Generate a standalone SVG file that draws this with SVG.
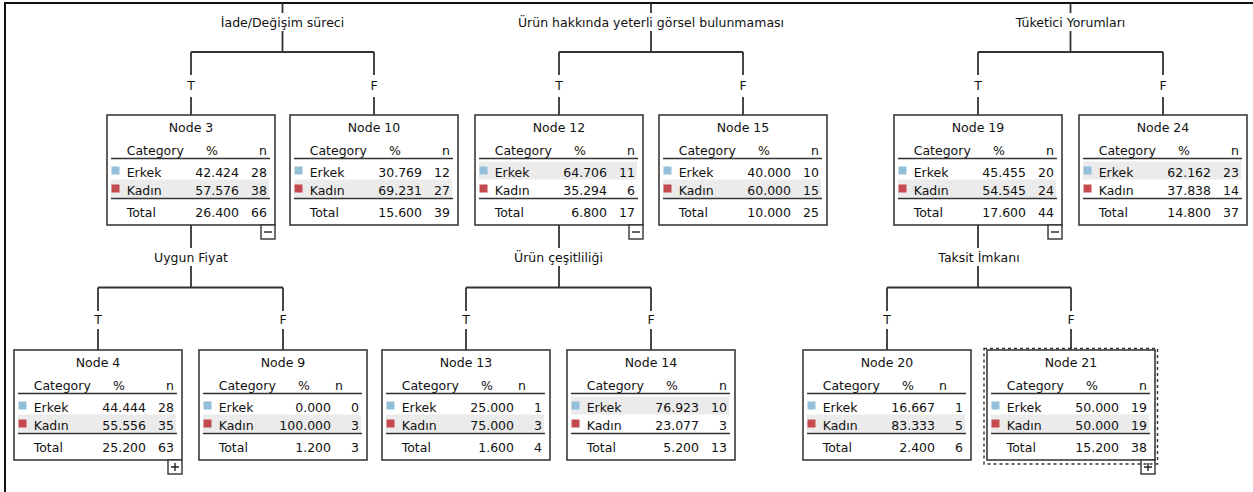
<svg xmlns="http://www.w3.org/2000/svg" width="1253" height="492" viewBox="0 0 1253 492">
<style>
  text { font-family: "DejaVu Sans", "Liberation Sans", sans-serif; font-size: 12.5px; fill: #111; }
  .mid { text-anchor: middle; }
  .end { text-anchor: end; }
  .box { fill: #fff; stroke: #3a3a3a; stroke-width: 1.6; }
  .rule { stroke: #333; stroke-width: 1.6; }
  .band { fill: #ebebeb; }
  .sqE { fill: #93c0d9; }
  .sqK { fill: #c54a50; }
  .con { stroke: #333; stroke-width: 1.8; fill: none; }
  .frame { stroke: #111; stroke-width: 2; fill: none; }
  .tog { fill: #fff; stroke: #333; stroke-width: 1.4; }
  .togs { stroke: #222; stroke-width: 1.4; }
  .focus { fill: none; stroke: #333; stroke-width: 1.4; stroke-dasharray: 3 3; }
</style>

<g id="frame">
  <path class="frame" d="M5,492 V3 H1253"/>
</g>

<g id="connectors">
  <!-- split 1 -->
  <path class="con" d="M282.5,3 V13 M282.5,31 V52 M191,52 H374 M191,52 V75 M191,97 V115 M374,52 V75 M374,97 V115"/>
  <!-- split 2 -->
  <path class="con" d="M651,3 V13 M651,31 V52 M559,52 H743 M559,52 V75 M559,97 V115 M743,52 V75 M743,97 V115"/>
  <!-- split 3 -->
  <path class="con" d="M1070.5,3 V13 M1070.5,31 V52 M978,52 H1163 M978,52 V75 M978,97 V115 M1163,52 V75 M1163,97 V115"/>
  <!-- split under node 3 -->
  <path class="con" d="M191,225 V248 M191,266 V287.5 M98,287.5 H283 M98,287.5 V311 M98,329 V350 M283,287.5 V311 M283,329 V350"/>
  <!-- split under node 12 -->
  <path class="con" d="M559,225 V248 M559,266 V287.5 M466,287.5 H651 M466,287.5 V311 M466,329 V350 M651,287.5 V311 M651,329 V350"/>
  <!-- split under node 19 -->
  <path class="con" d="M978,225 V248 M978,266 V287.5 M887,287.5 H1071 M887,287.5 V311 M887,329 V350 M1071,287.5 V311 M1071,329 V350"/>
</g>

<g id="labels">
  <text class="mid" x="282.5" y="26.5">İade/Değişim süreci</text>
  <text class="mid" x="651" y="26.5">Ürün hakkında yeterli görsel bulunmaması</text>
  <text class="mid" x="1070.5" y="26.5">Tüketici Yorumları</text>
  <text class="mid" x="191" y="89.5">T</text>
  <text class="mid" x="374" y="89.5">F</text>
  <text class="mid" x="559" y="89.5">T</text>
  <text class="mid" x="743" y="89.5">F</text>
  <text class="mid" x="978" y="89.5">T</text>
  <text class="mid" x="1163" y="89.5">F</text>
  <text class="mid" x="191" y="262">Uygun Fiyat</text>
  <text class="mid" x="558.5" y="262">Ürün çeşitliliği</text>
  <text class="mid" x="979" y="262">Taksit İmkanı</text>
  <text class="mid" x="98" y="324">T</text>
  <text class="mid" x="283" y="324">F</text>
  <text class="mid" x="466" y="324">T</text>
  <text class="mid" x="651" y="324">F</text>
  <text class="mid" x="887" y="324">T</text>
  <text class="mid" x="1071" y="324">F</text>
</g>

<g id="node3" transform="translate(107,115)">
  <rect class="box" x="0" y="0" width="168" height="110"/>
  <rect class="band" x="4" y="64.5" width="158" height="18"/>
  <text class="mid" x="84" y="16.7">Node 3</text>
  <text x="19.7" y="40">Category</text><text class="mid" x="105" y="40">%</text><text class="end" x="160" y="40">n</text>
  <line class="rule" x1="4" y1="43.5" x2="163" y2="43.5"/>
  <rect class="sqE" x="4.5" y="51.5" width="8" height="8"/>
  <text x="19.7" y="61.7">Erkek</text><text class="end" x="132" y="61.7">42.424</text><text class="end" x="160" y="61.7">28</text>
  <rect class="sqK" x="4.5" y="69.5" width="8" height="8"/>
  <text x="19.7" y="80">Kadın</text><text class="end" x="132" y="80">57.576</text><text class="end" x="160" y="80">38</text>
  <line class="rule" x1="4" y1="83.5" x2="163" y2="83.5"/>
  <text x="19.7" y="102.3">Total</text><text class="end" x="132" y="102.3">26.400</text><text class="end" x="160" y="102.3">66</text>
  <rect class="tog" x="154" y="110" width="14" height="14"/>
  <line class="togs" x1="157" y1="117" x2="165" y2="117"/>
</g>

<g id="node10" transform="translate(290,115)">
  <rect class="box" x="0" y="0" width="168" height="110"/>
  <rect class="band" x="4" y="64.5" width="158" height="18"/>
  <text class="mid" x="84" y="16.7">Node 10</text>
  <text x="19.7" y="40">Category</text><text class="mid" x="105" y="40">%</text><text class="end" x="160" y="40">n</text>
  <line class="rule" x1="4" y1="43.5" x2="163" y2="43.5"/>
  <rect class="sqE" x="4.5" y="51.5" width="8" height="8"/>
  <text x="19.7" y="61.7">Erkek</text><text class="end" x="132" y="61.7">30.769</text><text class="end" x="160" y="61.7">12</text>
  <rect class="sqK" x="4.5" y="69.5" width="8" height="8"/>
  <text x="19.7" y="80">Kadın</text><text class="end" x="132" y="80">69.231</text><text class="end" x="160" y="80">27</text>
  <line class="rule" x1="4" y1="83.5" x2="163" y2="83.5"/>
  <text x="19.7" y="102.3">Total</text><text class="end" x="132" y="102.3">15.600</text><text class="end" x="160" y="102.3">39</text>
</g>

<g id="node12" transform="translate(475,115)">
  <rect class="box" x="0" y="0" width="168" height="110"/>
  <rect class="band" x="4" y="46.5" width="158" height="18"/>
  <text class="mid" x="84" y="16.7">Node 12</text>
  <text x="19.7" y="40">Category</text><text class="mid" x="105" y="40">%</text><text class="end" x="160" y="40">n</text>
  <line class="rule" x1="4" y1="43.5" x2="163" y2="43.5"/>
  <rect class="sqE" x="4.5" y="51.5" width="8" height="8"/>
  <text x="19.7" y="61.7">Erkek</text><text class="end" x="132" y="61.7">64.706</text><text class="end" x="160" y="61.7">11</text>
  <rect class="sqK" x="4.5" y="69.5" width="8" height="8"/>
  <text x="19.7" y="80">Kadın</text><text class="end" x="132" y="80">35.294</text><text class="end" x="160" y="80">6</text>
  <line class="rule" x1="4" y1="83.5" x2="163" y2="83.5"/>
  <text x="19.7" y="102.3">Total</text><text class="end" x="132" y="102.3">6.800</text><text class="end" x="160" y="102.3">17</text>
  <rect class="tog" x="154" y="110" width="14" height="14"/>
  <line class="togs" x1="157" y1="117" x2="165" y2="117"/>
</g>

<g id="node15" transform="translate(659,115)">
  <rect class="box" x="0" y="0" width="168" height="110"/>
  <rect class="band" x="4" y="64.5" width="158" height="18"/>
  <text class="mid" x="84" y="16.7">Node 15</text>
  <text x="19.7" y="40">Category</text><text class="mid" x="105" y="40">%</text><text class="end" x="160" y="40">n</text>
  <line class="rule" x1="4" y1="43.5" x2="163" y2="43.5"/>
  <rect class="sqE" x="4.5" y="51.5" width="8" height="8"/>
  <text x="19.7" y="61.7">Erkek</text><text class="end" x="132" y="61.7">40.000</text><text class="end" x="160" y="61.7">10</text>
  <rect class="sqK" x="4.5" y="69.5" width="8" height="8"/>
  <text x="19.7" y="80">Kadın</text><text class="end" x="132" y="80">60.000</text><text class="end" x="160" y="80">15</text>
  <line class="rule" x1="4" y1="83.5" x2="163" y2="83.5"/>
  <text x="19.7" y="102.3">Total</text><text class="end" x="132" y="102.3">10.000</text><text class="end" x="160" y="102.3">25</text>
</g>

<g id="node19" transform="translate(894,115)">
  <rect class="box" x="0" y="0" width="168" height="110"/>
  <rect class="band" x="4" y="64.5" width="158" height="18"/>
  <text class="mid" x="84" y="16.7">Node 19</text>
  <text x="19.7" y="40">Category</text><text class="mid" x="105" y="40">%</text><text class="end" x="160" y="40">n</text>
  <line class="rule" x1="4" y1="43.5" x2="163" y2="43.5"/>
  <rect class="sqE" x="4.5" y="51.5" width="8" height="8"/>
  <text x="19.7" y="61.7">Erkek</text><text class="end" x="132" y="61.7">45.455</text><text class="end" x="160" y="61.7">20</text>
  <rect class="sqK" x="4.5" y="69.5" width="8" height="8"/>
  <text x="19.7" y="80">Kadın</text><text class="end" x="132" y="80">54.545</text><text class="end" x="160" y="80">24</text>
  <line class="rule" x1="4" y1="83.5" x2="163" y2="83.5"/>
  <text x="19.7" y="102.3">Total</text><text class="end" x="132" y="102.3">17.600</text><text class="end" x="160" y="102.3">44</text>
  <rect class="tog" x="154" y="110" width="14" height="14"/>
  <line class="togs" x1="157" y1="117" x2="165" y2="117"/>
</g>

<g id="node24" transform="translate(1079,115)">
  <rect class="box" x="0" y="0" width="168" height="110"/>
  <rect class="band" x="4" y="46.5" width="158" height="18"/>
  <text class="mid" x="84" y="16.7">Node 24</text>
  <text x="19.7" y="40">Category</text><text class="mid" x="105" y="40">%</text><text class="end" x="160" y="40">n</text>
  <line class="rule" x1="4" y1="43.5" x2="163" y2="43.5"/>
  <rect class="sqE" x="4.5" y="51.5" width="8" height="8"/>
  <text x="19.7" y="61.7">Erkek</text><text class="end" x="132" y="61.7">62.162</text><text class="end" x="160" y="61.7">23</text>
  <rect class="sqK" x="4.5" y="69.5" width="8" height="8"/>
  <text x="19.7" y="80">Kadın</text><text class="end" x="132" y="80">37.838</text><text class="end" x="160" y="80">14</text>
  <line class="rule" x1="4" y1="83.5" x2="163" y2="83.5"/>
  <text x="19.7" y="102.3">Total</text><text class="end" x="132" y="102.3">14.800</text><text class="end" x="160" y="102.3">37</text>
</g>

<g id="node4" transform="translate(14,350)">
  <rect class="box" x="0" y="0" width="168" height="110"/>
  <rect class="band" x="4" y="64.5" width="158" height="18"/>
  <text class="mid" x="84" y="16.7">Node 4</text>
  <text x="19.7" y="40">Category</text><text class="mid" x="105" y="40">%</text><text class="end" x="160" y="40">n</text>
  <line class="rule" x1="4" y1="43.5" x2="163" y2="43.5"/>
  <rect class="sqE" x="4.5" y="51.5" width="8" height="8"/>
  <text x="19.7" y="61.7">Erkek</text><text class="end" x="132" y="61.7">44.444</text><text class="end" x="160" y="61.7">28</text>
  <rect class="sqK" x="4.5" y="69.5" width="8" height="8"/>
  <text x="19.7" y="80">Kadın</text><text class="end" x="132" y="80">55.556</text><text class="end" x="160" y="80">35</text>
  <line class="rule" x1="4" y1="83.5" x2="163" y2="83.5"/>
  <text x="19.7" y="102.3">Total</text><text class="end" x="132" y="102.3">25.200</text><text class="end" x="160" y="102.3">63</text>
  <rect class="tog" x="154" y="110" width="14" height="14"/>
  <path class="togs" d="M157,117 H165 M161,113 V121"/>
</g>

<g id="node9" transform="translate(199,350)">
  <rect class="box" x="0" y="0" width="168" height="110"/>
  <rect class="band" x="4" y="64.5" width="158" height="18"/>
  <text class="mid" x="84" y="16.7">Node 9</text>
  <text x="19.7" y="40">Category</text><text class="mid" x="105" y="40">%</text><text class="mid" x="140" y="40">n</text>
  <line class="rule" x1="4" y1="43.5" x2="163" y2="43.5"/>
  <rect class="sqE" x="4.5" y="51.5" width="8" height="8"/>
  <text x="19.7" y="61.7">Erkek</text><text class="end" x="132" y="61.7">0.000</text><text class="end" x="160" y="61.7">0</text>
  <rect class="sqK" x="4.5" y="69.5" width="8" height="8"/>
  <text x="19.7" y="80">Kadın</text><text class="end" x="132" y="80">100.000</text><text class="end" x="160" y="80">3</text>
  <line class="rule" x1="4" y1="83.5" x2="163" y2="83.5"/>
  <text x="19.7" y="102.3">Total</text><text class="end" x="132" y="102.3">1.200</text><text class="end" x="160" y="102.3">3</text>
</g>

<g id="node13" transform="translate(382,350)">
  <rect class="box" x="0" y="0" width="168" height="110"/>
  <rect class="band" x="4" y="64.5" width="158" height="18"/>
  <text class="mid" x="84" y="16.7">Node 13</text>
  <text x="19.7" y="40">Category</text><text class="mid" x="105" y="40">%</text><text class="mid" x="140" y="40">n</text>
  <line class="rule" x1="4" y1="43.5" x2="163" y2="43.5"/>
  <rect class="sqE" x="4.5" y="51.5" width="8" height="8"/>
  <text x="19.7" y="61.7">Erkek</text><text class="end" x="132" y="61.7">25.000</text><text class="end" x="160" y="61.7">1</text>
  <rect class="sqK" x="4.5" y="69.5" width="8" height="8"/>
  <text x="19.7" y="80">Kadın</text><text class="end" x="132" y="80">75.000</text><text class="end" x="160" y="80">3</text>
  <line class="rule" x1="4" y1="83.5" x2="163" y2="83.5"/>
  <text x="19.7" y="102.3">Total</text><text class="end" x="132" y="102.3">1.600</text><text class="end" x="160" y="102.3">4</text>
</g>

<g id="node14" transform="translate(567,350)">
  <rect class="box" x="0" y="0" width="168" height="110"/>
  <rect class="band" x="4" y="46.5" width="158" height="18"/>
  <text class="mid" x="84" y="16.7">Node 14</text>
  <text x="19.7" y="40">Category</text><text class="mid" x="105" y="40">%</text><text class="end" x="160" y="40">n</text>
  <line class="rule" x1="4" y1="43.5" x2="163" y2="43.5"/>
  <rect class="sqE" x="4.5" y="51.5" width="8" height="8"/>
  <text x="19.7" y="61.7">Erkek</text><text class="end" x="132" y="61.7">76.923</text><text class="end" x="160" y="61.7">10</text>
  <rect class="sqK" x="4.5" y="69.5" width="8" height="8"/>
  <text x="19.7" y="80">Kadın</text><text class="end" x="132" y="80">23.077</text><text class="end" x="160" y="80">3</text>
  <line class="rule" x1="4" y1="83.5" x2="163" y2="83.5"/>
  <text x="19.7" y="102.3">Total</text><text class="end" x="132" y="102.3">5.200</text><text class="end" x="160" y="102.3">13</text>
</g>

<g id="node20" transform="translate(803,350)">
  <rect class="box" x="0" y="0" width="168" height="110"/>
  <rect class="band" x="4" y="64.5" width="158" height="18"/>
  <text class="mid" x="84" y="16.7">Node 20</text>
  <text x="19.7" y="40">Category</text><text class="mid" x="105" y="40">%</text><text class="mid" x="140" y="40">n</text>
  <line class="rule" x1="4" y1="43.5" x2="163" y2="43.5"/>
  <rect class="sqE" x="4.5" y="51.5" width="8" height="8"/>
  <text x="19.7" y="61.7">Erkek</text><text class="end" x="132" y="61.7">16.667</text><text class="end" x="160" y="61.7">1</text>
  <rect class="sqK" x="4.5" y="69.5" width="8" height="8"/>
  <text x="19.7" y="80">Kadın</text><text class="end" x="132" y="80">83.333</text><text class="end" x="160" y="80">5</text>
  <line class="rule" x1="4" y1="83.5" x2="163" y2="83.5"/>
  <text x="19.7" y="102.3">Total</text><text class="end" x="132" y="102.3">2.400</text><text class="end" x="160" y="102.3">6</text>
</g>

<g id="node21" transform="translate(987,350)">
  <rect class="box" x="0" y="0" width="168" height="110"/>
  <rect class="band" x="4" y="64.5" width="158" height="18"/>
  <text class="mid" x="84" y="16.7">Node 21</text>
  <text x="19.7" y="40">Category</text><text class="mid" x="105" y="40">%</text><text class="end" x="160" y="40">n</text>
  <line class="rule" x1="4" y1="43.5" x2="163" y2="43.5"/>
  <rect class="sqE" x="4.5" y="51.5" width="8" height="8"/>
  <text x="19.7" y="61.7">Erkek</text><text class="end" x="132" y="61.7">50.000</text><text class="end" x="160" y="61.7">19</text>
  <rect class="sqK" x="4.5" y="69.5" width="8" height="8"/>
  <text x="19.7" y="80">Kadın</text><text class="end" x="132" y="80">50.000</text><text class="end" x="160" y="80">19</text>
  <line class="rule" x1="4" y1="83.5" x2="163" y2="83.5"/>
  <text x="19.7" y="102.3">Total</text><text class="end" x="132" y="102.3">15.200</text><text class="end" x="160" y="102.3">38</text>
  <rect class="tog" x="154" y="110" width="14" height="14"/>
  <path class="togs" d="M157,117 H165 M161,113 V121"/>
  <rect class="focus" x="-3" y="-1.5" width="173.5" height="115.5"/>
</g>
</svg>
